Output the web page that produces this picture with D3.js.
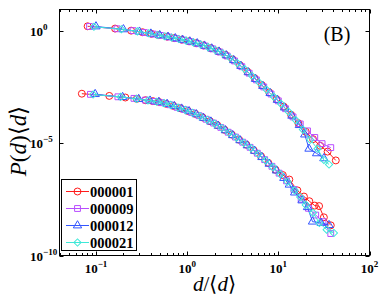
<!DOCTYPE html>
<html>
<head>
<meta charset="utf-8">
<script src="https://cdn.jsdelivr.net/npm/d3@7"></script>
<style>
body { margin: 0; background: #fff; }
text { font-family: "Liberation Serif", "Times New Roman", serif; }
</style>
</head>
<body>
<svg id="chart" width="382" height="302"></svg>
<script>
/* series names and colours */
var seriesNames = ["000001", "000009", "000012", "000021"];
var seriesColors = ["#ff1a1a", "#b84cff", "#3355ff", "#3ee8d8"];

/* upper group of curves: d/<d> and P(d)<d> */
var up01X = [0.081, 0.162, 0.243, 0.324, 0.405, 0.486, 0.603, 0.724, 0.871, 1.05, 1.26, 1.51, 1.82, 2.19, 2.63, 3.16, 3.80, 4.57, 5.50, 6.61, 7.94, 9.55, 11.5, 13.8, 16.6, 20.0, 24.0, 28.8, 34.7, 42.7];
var up01Y = [1.58, 1.25, 1.01, 0.86, 0.73, 0.64, 0.545, 0.47, 0.40, 0.34, 0.28, 0.222, 0.167, 0.122, 0.0847, 0.0525, 0.0291, 0.0153, 0.0077, 0.0038, 0.00182, 9.0e-4, 4.2e-4, 1.83e-4, 7.7e-5, 3.2e-5, 1.5e-5, 7.6e-6, 4.2e-6, 1.7e-6];
var up09X = [0.085, 0.17, 0.255, 0.34, 0.425, 0.51, 0.631, 0.759, 0.912, 1.10, 1.32, 1.58, 1.91, 2.29, 2.75, 3.31, 3.98, 4.79, 5.75, 6.92, 8.32, 10.0, 12.0, 14.5, 17.4, 20.9, 25.1, 30.2, 37.6];
var up09Y = [1.55, 1.22, 1.01, 0.83, 0.71, 0.62, 0.525, 0.45, 0.385, 0.324, 0.265, 0.209, 0.156, 0.113, 0.0752, 0.0453, 0.0251, 0.0129, 0.0065, 0.00316, 0.00153, 7.6e-4, 3.4e-4, 1.47e-4, 7.1e-5, 3.5e-5, 1.78e-5, 9.5e-6, 6.3e-6];
var up12X = [0.1, 0.2, 0.3, 0.4, 0.5, 0.617, 0.741, 0.891, 1.07, 1.29, 1.55, 1.86, 2.24, 2.69, 3.24, 3.89, 4.68, 5.62, 6.76, 8.13, 9.77, 11.7, 14.1, 17.0, 19.5, 21.7, 26.3, 31.6];
var up12Y = [1.55, 1.15, 0.90, 0.74, 0.63, 0.535, 0.46, 0.394, 0.331, 0.274, 0.215, 0.161, 0.117, 0.0798, 0.0488, 0.027, 0.0141, 0.0071, 0.00347, 0.00167, 8.3e-4, 3.8e-4, 1.64e-4, 6.3e-5, 2.4e-5, 5.6e-6, 3.5e-6, 2.1e-6];
var up21X = [0.095, 0.19, 0.285, 0.38, 0.475, 0.57, 0.676, 0.813, 0.977, 1.17, 1.41, 1.70, 2.04, 2.45, 2.95, 3.55, 4.27, 5.13, 6.17, 7.41, 8.91, 10.7, 12.9, 15.5, 18.6, 22.4, 26.9, 31.6, 36.0];
var up21Y = [1.50, 1.17, 0.94, 0.77, 0.65, 0.57, 0.50, 0.43, 0.363, 0.302, 0.243, 0.187, 0.139, 0.0995, 0.0628, 0.0363, 0.0196, 0.01, 0.005, 0.0024, 0.00117, 5.6e-4, 2.53e-4, 1.06e-4, 4.0e-5, 1.41e-5, 5.6e-6, 1.78e-6, 1.12e-6];

/* lower group of curves */
var lo01X = [0.07, 0.14, 0.21, 0.28, 0.35, 0.42, 0.49, 0.589, 0.708, 0.851, 1.02, 1.23, 1.48, 1.78, 2.14, 2.57, 3.09, 3.72, 4.47, 5.37, 6.46, 7.76, 9.33, 11.2, 13.2, 16.2, 19.1, 21.9, 25.1, 28.0, 31.6, 37.6];
var lo01Y = [1.58e-3, 1.26e-3, 1.07e-3, 9.3e-4, 8.1e-4, 7.4e-4, 6.8e-4, 5.6e-4, 4.5e-4, 3.5e-4, 2.7e-4, 2.0e-4, 1.38e-4, 9.5e-5, 6.3e-5, 3.9e-5, 2.4e-5, 1.41e-5, 8.5e-6, 4.8e-6, 2.6e-6, 1.32e-6, 6.5e-7, 3.8e-7, 2.4e-7, 7.9e-8, 4.2e-8, 2.6e-8, 1.66e-8, 1.58e-8, 5.0e-9, 2.2e-9];
var lo09X = [0.087, 0.174, 0.261, 0.348, 0.435, 0.522, 0.646, 0.776, 0.933, 1.12, 1.35, 1.62, 1.95, 2.34, 2.82, 3.39, 4.07, 4.90, 5.89, 7.08, 8.51, 10.2, 12.3, 14.8, 17.8, 21.4, 25.7, 30.9, 37.6];
var lo09Y = [1.48e-3, 1.15e-3, 9.8e-4, 8.2e-4, 7.2e-4, 6.3e-4, 5.1e-4, 3.9e-4, 3.1e-4, 2.3e-4, 1.66e-4, 1.15e-4, 7.8e-5, 5.0e-5, 3.05e-5, 1.86e-5, 1.1e-5, 6.5e-6, 3.55e-6, 1.84e-6, 9.3e-7, 4.6e-7, 2.1e-7, 8.7e-8, 3.2e-8, 1.26e-8, 6.3e-9, 3.2e-9, 9.5e-10];
var lo12X = [0.098, 0.196, 0.294, 0.392, 0.49, 0.603, 0.724, 0.871, 1.05, 1.26, 1.51, 1.82, 2.19, 2.63, 3.16, 3.80, 4.57, 5.50, 6.61, 7.94, 9.55, 11.5, 13.2, 15.1, 18.2, 20.9, 23.7, 29.5, 36.0];
var lo12Y = [1.51e-3, 1.11e-3, 9.1e-4, 7.7e-4, 6.8e-4, 5.5e-4, 4.4e-4, 3.4e-4, 2.6e-4, 1.91e-4, 1.32e-4, 9.0e-5, 5.9e-5, 3.7e-5, 2.24e-5, 1.33e-5, 7.9e-6, 4.5e-6, 2.37e-6, 1.2e-6, 6.0e-7, 2.8e-7, 1.41e-7, 6.3e-8, 2.8e-8, 1.41e-8, 3.2e-9, 2.8e-9, 2.24e-9];
var lo21X = [0.093, 0.186, 0.279, 0.372, 0.465, 0.558, 0.661, 0.794, 0.955, 1.15, 1.38, 1.66, 1.995, 2.40, 2.88, 3.47, 4.17, 5.01, 6.03, 7.24, 8.71, 10.5, 12.6, 15.1, 17.4, 20.0, 24.0, 28.2, 33.9, 40.7];
var lo21Y = [1.45e-3, 1.14e-3, 9.3e-4, 7.9e-4, 6.9e-4, 6.0e-4, 5.0e-4, 3.8e-4, 3.0e-4, 2.24e-4, 1.58e-4, 1.1e-4, 7.4e-5, 4.7e-5, 2.9e-5, 1.74e-5, 1.02e-5, 6.0e-6, 3.3e-6, 1.7e-6, 8.5e-7, 4.2e-7, 1.91e-7, 7.9e-8, 4.0e-8, 1.78e-8, 7.9e-9, 2.8e-9, 1.41e-9, 1.0e-9];

/* axis ticks */
var xMajorTicks = [0.1, 1, 10, 100];
var xTickExp = ["\u22121", "0", "1", "2"];
var yMajorTicks = [1, 1e-5, 1e-10];
var yTickExp = ["0", "\u22125", "\u221210"];

var svg = d3.select("#chart");

var margin = {left: 59.5, right: 369.5, top: 9.5, bottom: 255.5};

var x = d3.scaleLog().domain([Math.pow(10, -1.4), 100]).range([margin.left, margin.right]);
var y = d3.scaleLog().domain([1e-10, Math.pow(10, 0.945)]).range([margin.bottom, margin.top]);

var symbolTypes = [d3.symbolCircle, d3.symbolSquare, d3.symbolTriangle, d3.symbolSquare];
var symbolSizes = [38, 34, 30, 26];
var symbolRotate = [0, 0, 0, 45];

/*Curves: zip x and y arrays*/
function zip(xs, ys) {
	return xs.map(function(v, i) { return {x: v, y: ys[i]}; });
}
var curves = [
	{s: 0, pts: zip(up01X, up01Y)}, {s: 0, pts: zip(lo01X, lo01Y)},
	{s: 1, pts: zip(up09X, up09Y)}, {s: 1, pts: zip(lo09X, lo09Y)},
	{s: 2, pts: zip(up12X, up12Y)}, {s: 2, pts: zip(lo12X, lo12Y)},
	{s: 3, pts: zip(up21X, up21Y)}, {s: 3, pts: zip(lo21X, lo21Y)}
];

var line = d3.line()
	.x(function(d) { return x(d.x); })
	.y(function(d) { return y(d.y); });

var plot = svg.append("g");

curves.forEach(function(c) {
	var col = seriesColors[c.s];
	plot.append("path")
		.datum(c.pts)
		.attr("d", line)
		.attr("fill", "none")
		.attr("stroke", col)
		.attr("stroke-width", 1);
	plot.selectAll(null)
		.data(c.pts)
		.enter().append("path")
		.attr("d", d3.symbol().type(symbolTypes[c.s]).size(symbolSizes[c.s]))
		.attr("transform", function(d) {
			return "translate(" + x(d.x) + "," + y(d.y) + ") rotate(" + symbolRotate[c.s] + ")";
		})
		.attr("fill", "none")
		.attr("stroke", col)
		.attr("stroke-width", 1);
});

/*Frame*/
svg.append("rect")
	.attr("x", margin.left)
	.attr("y", margin.top)
	.attr("width", margin.right - margin.left)
	.attr("height", margin.bottom - margin.top)
	.attr("fill", "none")
	.attr("stroke", "#000")
	.attr("stroke-width", 1);

/*X ticks, bottom and top*/
var xAll = x.ticks();
xAll.forEach(function(t) {
	var major = xMajorTicks.indexOf(t) >= 0;
	var len = major ? 4 : 2.5;
	var px = Math.round(x(t)) + 0.5;
	svg.append("line")
		.attr("x1", px).attr("x2", px)
		.attr("y1", margin.bottom).attr("y2", margin.bottom - len)
		.attr("stroke", "#000");
	svg.append("line")
		.attr("x1", px).attr("x2", px)
		.attr("y1", margin.top).attr("y2", margin.top + len)
		.attr("stroke", "#000");
});

/*Y ticks, left and right*/
yMajorTicks.forEach(function(t) {
	var py = Math.round(y(t)) + 0.5;
	svg.append("line")
		.attr("x1", margin.left).attr("x2", margin.left + 4)
		.attr("y1", py).attr("y2", py)
		.attr("stroke", "#000");
	svg.append("line")
		.attr("x1", margin.right).attr("x2", margin.right - 4)
		.attr("y1", py).attr("y2", py)
		.attr("stroke", "#000");
});

/*Tick labels*/
xMajorTicks.forEach(function(t, i) {
	var lab = svg.append("text")
		.attr("x", x(t))
		.attr("y", 273)
		.attr("text-anchor", "middle")
		.style("font-size", "13px")
		.style("font-weight", "bold");
	lab.append("tspan").text("10");
	lab.append("tspan")
		.attr("dy", -6)
		.style("font-size", "9px")
		.text(xTickExp[i]);
});

yMajorTicks.forEach(function(t, i) {
	var py = y(t);
	svg.append("text")
		.attr("x", 43)
		.attr("y", py + 5)
		.attr("text-anchor", "end")
		.style("font-size", "13px")
		.style("font-weight", "bold")
		.text("10");
	svg.append("text")
		.attr("x", 43)
		.attr("y", py - 1)
		.style("font-size", "9px")
		.style("font-weight", "bold")
		.text(yTickExp[i]);
});

/*Axis labels*/
var xl = svg.append("text")
	.attr("x", 214.5)
	.attr("y", 291)
	.attr("text-anchor", "middle")
	.style("font-size", "21px");
xl.append("tspan").style("font-style", "italic").text("d");
xl.append("tspan").text("/\u27e8");
xl.append("tspan").style("font-style", "italic").text("d");
xl.append("tspan").text("\u27e9");

var yl = svg.append("text")
	.attr("transform", "translate(26,141) rotate(-90)")
	.attr("text-anchor", "middle")
	.style("font-size", "23px");
yl.append("tspan").style("font-style", "italic").text("P");
yl.append("tspan").text("(");
yl.append("tspan").style("font-style", "italic").text("d");
yl.append("tspan").text(")\u27e8");
yl.append("tspan").style("font-style", "italic").text("d");
yl.append("tspan").text("\u27e9");

/*Panel letter*/
svg.append("text")
	.attr("x", 337)
	.attr("y", 41)
	.attr("text-anchor", "middle")
	.style("font-size", "20px")
	.text("(B)");

/*Legend*/
var leg = svg.append("g");
leg.append("rect")
	.attr("x", 61.5).attr("y", 179.5)
	.attr("width", 75).attr("height", 71)
	.attr("fill", "#fff")
	.attr("stroke", "#000");

seriesNames.forEach(function(name, i) {
	var ly = 191.5 + i * 17;
	leg.append("line")
		.attr("x1", 66).attr("x2", 89)
		.attr("y1", ly).attr("y2", ly)
		.attr("stroke", seriesColors[i]);
	leg.append("path")
		.attr("d", d3.symbol().type(symbolTypes[i]).size(symbolSizes[i]))
		.attr("transform", "translate(77.5," + ly + ") rotate(" + symbolRotate[i] + ")")
		.attr("fill", "none")
		.attr("stroke", seriesColors[i]);
	leg.append("text")
		.attr("x", 90)
		.attr("y", ly + 5)
		.style("font-size", "14.5px")
		.style("font-weight", "bold")
		.text(name);
});
</script>
</body>
</html>
